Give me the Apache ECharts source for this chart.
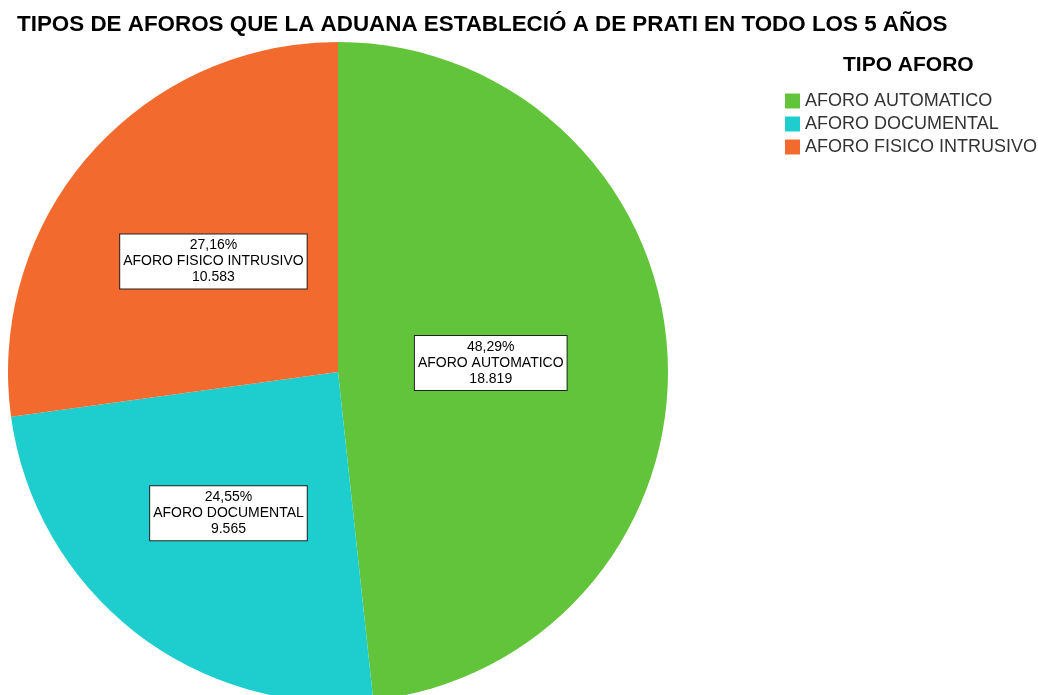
<!DOCTYPE html>
<html>
<head>
<meta charset="utf-8">
<script src="https://cdn.jsdelivr.net/npm/echarts@6/dist/echarts.min.js"></script>
<style>
html,body{margin:0;padding:0;background:#fff;}
#main{width:1038px;height:695px;}
</style>
</head>
<body>
<div id="main"></div>
<script>
var chart = echarts.init(document.getElementById('main'));

var categories = ['AFORO AUTOMATICO', 'AFORO DOCUMENTAL', 'AFORO FISICO INTRUSIVO'];
var values = [18819, 9565, 10583];
var colors = ['#62c43b', '#1ecdcd', '#f26a2e'];
// small nudges so boxes sit where the original put them
var labelOffsets = [[-15, 0], [-6, 9], [2, 0]];

var total = values.reduce(function (a, b) { return a + b; }, 0);

function fmtNum(v) {
    return String(v).replace(/\B(?=(\d{3})+(?!\d))/g, '.');
}

var data = [];
for (var i = 0; i < categories.length; i++) {
    data.push({
        name: categories[i],
        value: values[i],
        itemStyle: { color: colors[i] },
        label: { offset: labelOffsets[i] }
    });
}

var option = {
    animation: false,
    backgroundColor: '#fff',
    title: [{
        text: 'TIPOS DE AFOROS QUE LA ADUANA ESTABLECIÓ A DE PRATI EN TODO LOS 5 AÑOS',
        left: 12,
        top: 9,
        textStyle: {
            fontFamily: 'Liberation Sans',
            fontWeight: 'bold',
            fontSize: 22.4,
            color: '#000'
        }
    }, {
        text: 'TIPO AFORO',
        left: 838,
        top: 50,
        textStyle: {
            fontFamily: 'Liberation Sans',
            fontWeight: 'bold',
            fontSize: 21,
            color: '#000'
        }
    }],
    legend: {
        orient: 'vertical',
        left: 780,
        top: 87,
        itemWidth: 15,
        itemHeight: 15,
        itemGap: 5,
        icon: 'rect',
        data: categories,
        textStyle: {
            fontFamily: 'Liberation Sans',
            fontSize: 18,
            color: '#333',
            padding: [0, 0, 0, 0]
        }
    },
    series: [{
        type: 'pie',
        center: [338, 372],
        radius: 330,
        startAngle: 90,
        clockwise: true,
        silent: true,
        data: data,
        itemStyle: { borderWidth: 0 },
        label: {
            show: true,
            position: 'inside',
            fontFamily: 'Liberation Sans',
            fontSize: 14,
            lineHeight: 16,
            color: '#000',
            backgroundColor: '#fff',
            borderColor: '#222',
            borderWidth: 1,
            padding: [3, 3, 3, 3],
            align: 'center',
            formatter: function (p) {
                var pct = (p.value / total * 100).toFixed(2).replace('.', ',');
                return pct + '%\n' + p.name + '\n' + fmtNum(p.value);
            }
        },
        labelLine: { show: false }
    }]
};

chart.setOption(option);
</script>
</body>
</html>
